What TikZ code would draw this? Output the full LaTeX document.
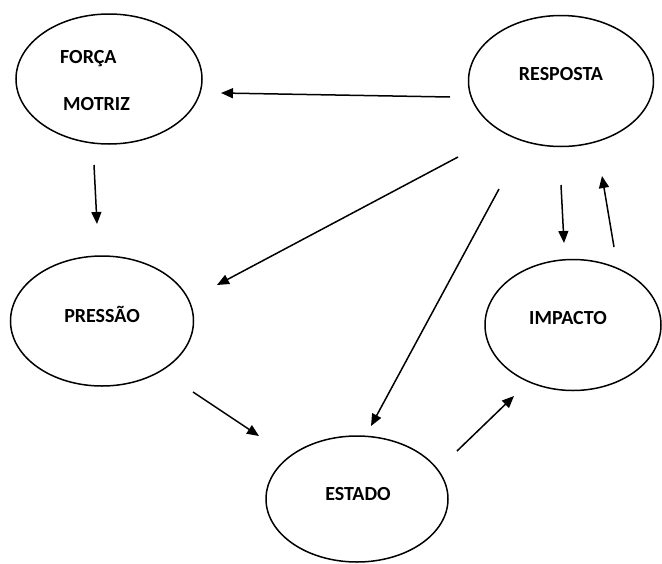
\documentclass[tikz,border=0pt]{standalone}
\usepackage{fontspec}
\setmainfont{Carlito}
\usetikzlibrary{shapes.geometric,arrows.meta}
\begin{document}
\begin{tikzpicture}[x=1pt,y=-1pt,
  oval/.style={draw,ellipse,line width=1.5pt,inner sep=0pt},
  lbl/.style={font=\fontsize{20}{24}\selectfont\bfseries,inner sep=0pt,anchor=base},
  conn/.style={line width=1.5pt,-{Triangle[length=12pt,width=10pt]}}]
\useasboundingbox (0,0) rectangle (662,563);
% ellipses
\node[oval,minimum width=186pt,minimum height=130pt] (forca) at (109,79) {};
\node[oval,minimum width=185pt,minimum height=131pt] (resposta) at (561,81) {};
\node[oval,minimum width=183pt,minimum height=130pt] (pressao) at (102,321) {};
\node[oval,minimum width=176pt,minimum height=131pt] (impacto) at (573,325) {};
\node[oval,minimum width=182pt,minimum height=126pt] (estado) at (357,499) {};
% texts
\node[lbl,anchor=base west] (tforca) at (60,63) {FORÇA};
\node[lbl,anchor=base west] (tmotriz) at (63,110) {MOTRIZ};
\node[lbl] (tresposta) at (561,80) {RESPOSTA};
\node[lbl] (tpressao) at (102,322) {PRESSÃO};
\node[lbl] (timpacto) at (568,324) {IMPACTO};
\node[lbl] (testado) at (358,500) {ESTADO};
% connector end points
\coordinate (a1) at (450,97);  \coordinate (a2) at (221,93);
\coordinate (b1) at (94,165);  \coordinate (b2) at (97,224);
\coordinate (c1) at (458,157); \coordinate (c2) at (217,285);
\coordinate (d1) at (499,189); \coordinate (d2) at (371,426);
\coordinate (e1) at (561,185); \coordinate (e2) at (564,243);
\coordinate (f1) at (614,247); \coordinate (f2) at (602,176);
\coordinate (g1) at (193,392); \coordinate (g2) at (259,436);
\coordinate (h1) at (457,451); \coordinate (h2) at (514,396);
% connectors
\draw[conn] (a1) -- (a2);
\draw[conn] (b1) -- (b2);
\draw[conn] (c1) -- (c2);
\draw[conn] (d1) -- (d2);
\draw[conn] (e1) -- (e2);
\draw[conn] (f1) -- (f2);
\draw[conn] (g1) -- (g2);
\draw[conn] (h1) -- (h2);
\end{tikzpicture}
\end{document}
